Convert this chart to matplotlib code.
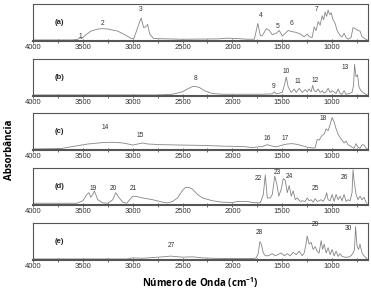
import numpy as np
import matplotlib
matplotlib.use("Agg")
import matplotlib.pyplot as plt

plt.rcParams["font.family"] = ["Liberation Sans", "DejaVu Sans"]
plt.rcParams["mathtext.default"] = "regular"

# spectra: (wavenumber, relative absorbance 0..1)
wn_a = [4000, 3600, 3550, 3530, 3510, 3480, 3420, 3350, 3300, 3250, 3150, 3080, 3020, 2990, 2960, 2930, 2915, 2890, 2870, 2850, 2830, 2790, 2500, 2150, 2050, 1950, 1850, 1780, 1760, 1745, 1720, 1700, 1660, 1630, 1600, 1560, 1530, 1500, 1470, 1440, 1410, 1370, 1320, 1280, 1250, 1230, 1200, 1180, 1160, 1140, 1120, 1100, 1085, 1070, 1055, 1040, 1025, 1010, 990, 970, 950, 920, 900, 880, 860, 840, 810, 790, 770, 740, 720, 700, 680, 660, 650]
ab_a = [0.03, 0.03, 0.05, 0.09, 0.07, 0.15, 0.28, 0.34, 0.35, 0.34, 0.28, 0.18, 0.08, 0.06, 0.3, 0.55, 0.65, 0.38, 0.4, 0.47, 0.2, 0.07, 0.05, 0.06, 0.08, 0.07, 0.05, 0.05, 0.3, 0.5, 0.15, 0.15, 0.35, 0.3, 0.18, 0.22, 0.3, 0.14, 0.22, 0.3, 0.27, 0.25, 0.2, 0.12, 0.2, 0.12, 0.1, 0.4, 0.3, 0.55, 0.45, 0.72, 0.6, 0.82, 0.7, 0.88, 0.75, 0.8, 0.6, 0.5, 0.3, 0.15, 0.12, 0.22, 0.1, 0.05, 0.1, 0.38, 0.35, 0.3, 0.28, 0.12, 0.08, 0.05, 0.04]
wn_b = [4000, 2750, 2600, 2500, 2450, 2400, 2370, 2330, 2280, 2200, 2100, 1700, 1600, 1580, 1560, 1500, 1475, 1460, 1440, 1410, 1380, 1360, 1330, 1300, 1270, 1250, 1230, 1210, 1195, 1180, 1160, 1140, 1120, 1100, 1080, 1060, 1040, 1020, 1000, 960, 940, 920, 900, 880, 860, 840, 800, 785, 775, 760, 745, 730, 710, 690, 670, 650]
ab_b = [0.03, 0.03, 0.05, 0.12, 0.2, 0.27, 0.27, 0.24, 0.15, 0.07, 0.05, 0.05, 0.06, 0.12, 0.06, 0.1, 0.35, 0.54, 0.25, 0.1, 0.2, 0.1, 0.22, 0.1, 0.18, 0.12, 0.2, 0.12, 0.3, 0.15, 0.12, 0.2, 0.1, 0.15, 0.08, 0.12, 0.22, 0.1, 0.15, 0.07, 0.2, 0.07, 0.05, 0.15, 0.05, 0.06, 0.1, 0.3, 0.9, 0.55, 0.6, 0.25, 0.15, 0.1, 0.06, 0.04]
wn_c = [4000, 3720, 3600, 3450, 3300, 3200, 3100, 3030, 3000, 2950, 2900, 2850, 2700, 2500, 2300, 2100, 1900, 1800, 1700, 1650, 1600, 1560, 1500, 1450, 1400, 1350, 1300, 1250, 1200, 1170, 1150, 1130, 1100, 1080, 1060, 1040, 1020, 1000, 980, 960, 940, 920, 900, 880, 860, 840, 820, 800, 780, 760, 740, 720, 700, 680, 660, 650]
ab_c = [0.03, 0.04, 0.1, 0.17, 0.21, 0.22, 0.2, 0.16, 0.14, 0.17, 0.2, 0.17, 0.15, 0.14, 0.13, 0.11, 0.1, 0.07, 0.1, 0.15, 0.11, 0.09, 0.14, 0.17, 0.18, 0.16, 0.12, 0.08, 0.06, 0.06, 0.3, 0.28, 0.42, 0.45, 0.6, 0.55, 0.72, 0.92, 0.8, 0.6, 0.45, 0.35, 0.28, 0.2, 0.25, 0.15, 0.12, 0.08, 0.05, 0.18, 0.08, 0.05, 0.15, 0.14, 0.06, 0.04]
wn_d = [4000, 3560, 3500, 3460, 3440, 3420, 3400, 3385, 3350, 3300, 3250, 3200, 3170, 3140, 3100, 3060, 3030, 3000, 2960, 2900, 2800, 2700, 2650, 2600, 2550, 2500, 2470, 2440, 2400, 2350, 2300, 2200, 2100, 2000, 1950, 1850, 1800, 1720, 1690, 1670, 1650, 1620, 1600, 1575, 1555, 1535, 1510, 1490, 1470, 1450, 1430, 1410, 1390, 1370, 1350, 1320, 1300, 1270, 1250, 1230, 1210, 1190, 1170, 1150, 1130, 1110, 1090, 1070, 1055, 1040, 1020, 1000, 980, 960, 940, 920, 900, 880, 860, 840, 820, 800, 790, 780, 760, 740, 720, 700, 680, 660, 650]
ab_d = [0.05, 0.05, 0.12, 0.3, 0.35, 0.22, 0.3, 0.4, 0.15, 0.06, 0.05, 0.15, 0.35, 0.22, 0.08, 0.05, 0.15, 0.25, 0.24, 0.2, 0.15, 0.08, 0.06, 0.1, 0.2, 0.42, 0.5, 0.5, 0.45, 0.3, 0.2, 0.12, 0.08, 0.07, 0.1, 0.1, 0.07, 0.06, 0.3, 0.85, 0.2, 0.2, 0.3, 0.82, 0.6, 0.25, 0.45, 0.75, 0.7, 0.35, 0.55, 0.25, 0.4, 0.15, 0.2, 0.1, 0.12, 0.1, 0.2, 0.12, 0.15, 0.08, 0.18, 0.1, 0.12, 0.15, 0.1, 0.2, 0.35, 0.15, 0.12, 0.3, 0.1, 0.3, 0.15, 0.25, 0.12, 0.3, 0.1, 0.15, 0.12, 0.35, 1.0, 0.7, 0.3, 0.15, 0.25, 0.15, 0.22, 0.08, 0.05]
wn_e = [4000, 3050, 3000, 2900, 2800, 2700, 2620, 2500, 2400, 2300, 2200, 2000, 1800, 1760, 1740, 1725, 1710, 1690, 1670, 1640, 1600, 1570, 1540, 1510, 1480, 1450, 1420, 1390, 1360, 1330, 1300, 1280, 1265, 1250, 1230, 1210, 1190, 1170, 1150, 1130, 1110, 1095, 1080, 1060, 1040, 1020, 1000, 980, 960, 940, 920, 900, 870, 840, 810, 790, 775, 765, 750, 735, 720, 700, 680, 660, 650]
ab_e = [0.03, 0.03, 0.06, 0.05, 0.07, 0.09, 0.11, 0.08, 0.09, 0.06, 0.05, 0.04, 0.04, 0.06, 0.2, 0.52, 0.45, 0.2, 0.12, 0.12, 0.18, 0.12, 0.16, 0.2, 0.12, 0.18, 0.12, 0.22, 0.15, 0.25, 0.12, 0.2, 0.4, 0.68, 0.45, 0.5, 0.3, 0.38, 0.25, 0.2, 0.55, 0.3, 0.45, 0.2, 0.35, 0.15, 0.3, 0.12, 0.25, 0.1, 0.18, 0.1, 0.08, 0.08, 0.12, 0.2, 0.3, 0.95, 0.4, 0.3, 0.45, 0.2, 0.12, 0.06, 0.04]

panel_tags = ["(a)", "(b)", "(c)", "(d)", "(e)"]

# band labels: number, wavenumber, height (axes fraction)
num_a = ["1", "2", "3", "4", "5", "6", "7"]
pos_a = [3530, 3300, 2920, 1720, 1550, 1410, 1160]
hgt_a = [0.12, 0.48, 0.86, 0.7, 0.4, 0.48, 0.86]
num_b = ["8", "9", "10", "11", "12", "13"]
pos_b = [2365, 1590, 1460, 1340, 1170, 870]
hgt_b = [0.48, 0.25, 0.67, 0.38, 0.42, 0.76]
num_c = ["14", "15", "16", "17", "18"]
pos_c = [3280, 2925, 1650, 1470, 1090]
hgt_c = [0.6, 0.38, 0.3, 0.32, 0.86]
num_d = ["19", "20", "21", "22", "23", "24", "25", "26"]
pos_d = [3400, 3190, 2990, 1735, 1550, 1430, 1170, 880]
hgt_d = [0.44, 0.44, 0.44, 0.72, 0.88, 0.76, 0.44, 0.74]
num_e = ["27", "28", "29", "30"]
pos_e = [2615, 1725, 1170, 840]
hgt_e = [0.38, 0.74, 0.96, 0.86]

spectra = [(wn_a, ab_a), (wn_b, ab_b), (wn_c, ab_c), (wn_d, ab_d), (wn_e, ab_e)]
labels = [(num_a, pos_a, hgt_a), (num_b, pos_b, hgt_b), (num_c, pos_c, hgt_c),
          (num_d, pos_d, hgt_d), (num_e, pos_e, hgt_e)]

W, H = 371, 295
fig = plt.figure(figsize=(W / 100, H / 100), dpi=100)
tops = [4, 59, 113, 168, 223]
ph = 37
frame = "#555555"
line = "#858585"

for i in range(5):
    ax = fig.add_axes([33 / W, 1 - (tops[i] + ph) / H, 335 / W, ph / H])
    wn, ab = spectra[i]
    ax.plot(np.array(wn), np.array(ab), color=line, lw=0.6)
    ax.set_xlim(4000, 640)
    ax.set_ylim(0, 1.05)
    ax.set_yticks([])
    ax.set_xticks([4000, 3500, 3000, 2500, 2000, 1500, 1000])
    ax.set_xticks(np.arange(3750, 640, -500), minor=True)
    ax.tick_params(axis="x", which="both", direction="inout", length=3, width=0.6,
                   colors=frame, labelsize=5.5, pad=1, labelcolor="#333333")
    for s in ax.spines.values():
        s.set_color(frame)
        s.set_linewidth(0.8)
    ax.spines["bottom"].set_linewidth(1.5)
    ax.text(0.065, 0.5, panel_tags[i], transform=ax.transAxes, fontsize=5.5,
            fontweight="bold", color="#222222", va="center")
    nums, pos, hgt = labels[i]
    for n, p, h in zip(nums, pos, hgt):
        ax.text(p, h, n, transform=ax.get_xaxis_transform(), fontsize=4.8,
                color="#333333", ha="center", va="center")

fig.text(10 / W, 1 - 150 / H, "Absorbância", rotation=90, fontsize=7,
         fontweight="bold", ha="center", va="center", family=["Open Sans", "DejaVu Sans"])
fig.text(200 / W, 1 - 283 / H, "Número de Onda (cm$^{-1}$)", fontsize=7,
         fontweight="bold", ha="center", va="center", family=["Open Sans", "DejaVu Sans"])

fig.savefig("out.png", dpi=100)
